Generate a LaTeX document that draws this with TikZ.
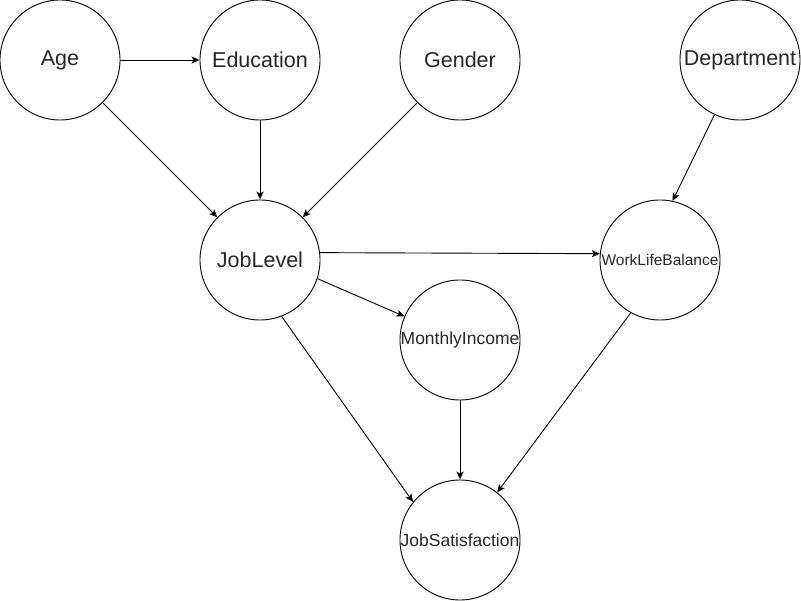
\documentclass[tikz,border=0pt]{standalone}
\usepackage{fontspec}
\setmainfont{Liberation Sans}
\usetikzlibrary{arrows.meta}
\begin{document}
\begin{tikzpicture}[x=1pt,y=-1pt,
  var/.style={circle,draw=black,line width=0.9pt,minimum size=120pt,inner sep=0pt,font=\fontsize{21.5}{24}\selectfont,text=black!85},
  smallvar/.style={var,font=\fontsize{17.5}{20}\selectfont},
  tinyvar/.style={var,font=\fontsize{15.5}{18}\selectfont},
  edge/.style={draw=black,line width=0.9pt,-{Stealth[length=8pt,width=7pt,inset=2pt]}}]
\useasboundingbox (0,0) rectangle (801,601);
\node[var] (age) at (60,60) {Age};
\node[var] (edu) at (260,60) {Education};
\node[var] (gen) at (460,60) {Gender};
\node[var] (dep) at (740,60) {Department};
\node[var] (jl) at (260,260) {JobLevel};
\node[tinyvar] (wlb) at (660,260) {WorkLifeBalance};
\node[smallvar] (mi) at (460,340) {MonthlyIncome};
\node[smallvar] (js) at (460,540) {JobSatisfaction};
\draw[edge] (age) -- (edu);
\draw[edge] (age) -- (jl);
\draw[edge] (edu) -- (jl);
\draw[edge] (gen) -- (jl);
\draw[edge] (dep.-115) -- (wlb.78);
\draw[edge] (jl.7) -- (wlb.174);
\draw[edge] (jl.-18) -- (mi.157);
\draw[edge] (jl.-69) -- (js.141);
\draw[edge] (mi) -- (js);
\draw[edge] (wlb.-119) -- (js.52);
\end{tikzpicture}
\end{document}
